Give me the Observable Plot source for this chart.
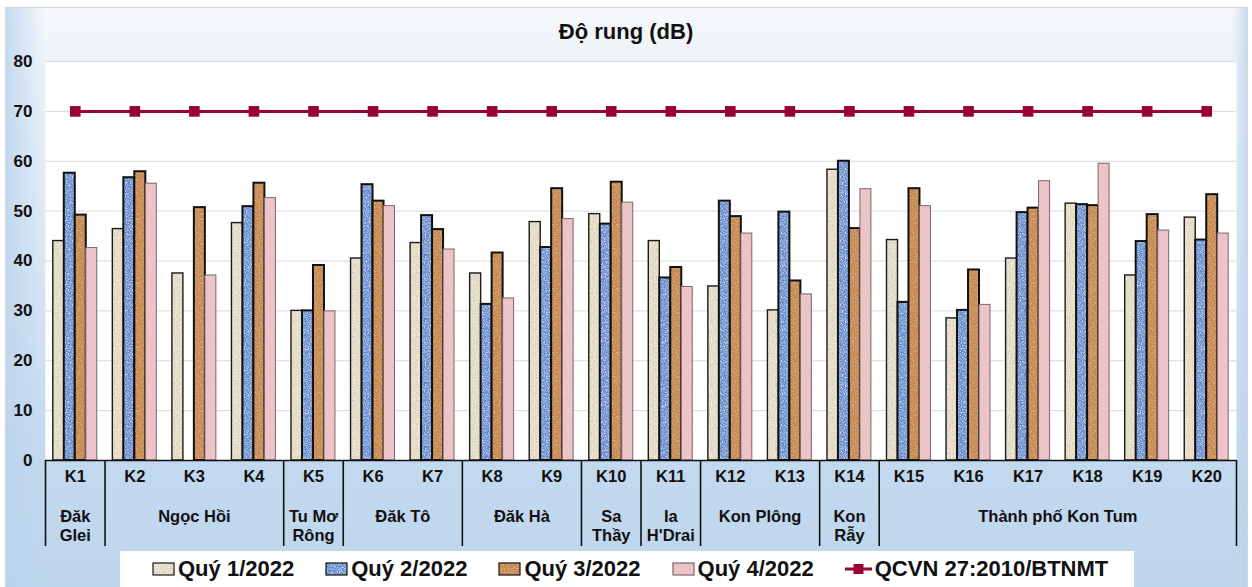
<!DOCTYPE html>
<html>
<head>
<meta charset="utf-8">
<script src="https://cdn.jsdelivr.net/npm/d3@7"></script>
<script src="https://cdn.jsdelivr.net/npm/@observablehq/plot@0.6"></script>
<style>
  html, body { margin: 0; padding: 0; background: #fff; }
  body { width: 1252px; height: 587px; overflow: hidden; position: relative;
         font-family: "Liberation Sans", Arial, sans-serif; color: #111; }
  #bg { position: absolute; left: 5px; top: 7px; width: 1243px; height: 600px;
        border: 1px solid #d2d6dc; box-sizing: border-box;
        background:
          linear-gradient(to right, rgba(186,211,237,0.8) 0px, rgba(186,211,237,0) 40px,
                          rgba(186,211,237,0) 1225px, rgba(186,211,237,0.8) 1243px),
          linear-gradient(to bottom, #f6f8fc 0px, #eef3f9 55px, #dde9f5 240px, #c3d9ef 450px, #bdd5ed 600px); }
  #title { position: absolute; left: 0; top: 19px; width: 1252px; text-align: center;
           font-weight: bold; font-size: 22px; line-height: 26px; }
  #chart { position: absolute; left: 0; top: 0; }
  #legend { position: absolute; left: 120px; top: 551px; width: 1014px; height: 36px;
            background: #fff; display: flex; align-items: center; padding-left: 32px;
            box-sizing: border-box; font-weight: bold; font-size: 22px; gap: 31px; }
  .item { display: flex; align-items: center; white-space: nowrap; }
  .item svg { margin-right: 3px; }
</style>
</head>
<body>
<div id="bg"></div>
<div id="title">Độ rung (dB)</div>
<div id="chart"></div>
<div id="legend"></div>
<script>
// Monitoring stations and their districts
const stations = ["K1","K2","K3","K4","K5","K6","K7","K8","K9","K10",
                  "K11","K12","K13","K14","K15","K16","K17","K18","K19","K20"];
const districts = ["Đăk\nGlei","Ngọc Hồi","Tu Mơ\nRông","Đăk Tô","Đăk Hà",
                   "Sa\nThầy","Ia\nH'Drai","Kon Plông","Kon\nRẫy","Thành phố Kon Tum"];
const districtSizes = [1, 3, 1, 2, 2, 1, 1, 2, 1, 6];

// Vibration level (dB) per quarter of 2022; null = not measured
const quy1 = [44.0, 46.4, 37.5, 47.6, 30.0, 40.5, 43.6, 37.5, 47.8, 49.4,
              44.0, 34.9, 30.1, 58.3, 44.2, 28.5, 40.5, 51.5, 37.1, 48.7];
const quy2 = [57.6, 56.7, null, 50.9, 30.0, 55.3, 49.1, 31.3, 42.7, 47.4,
              36.6, 52.0, 49.8, 60.0, 31.7, 30.1, 49.7, 51.3, 43.9, 44.2];
const quy3 = [49.2, 57.9, 50.7, 55.6, 39.1, 52.0, 46.3, 41.6, 54.5, 55.8,
              38.7, 48.9, 36.0, 46.5, 54.5, 38.2, 50.6, 51.1, 49.3, 53.3];
const quy4 = [42.6, 55.5, 37.1, 52.6, 29.9, 51.0, 42.3, 32.5, 48.4, 51.7,
              34.8, 45.5, 33.3, 54.4, 51.0, 31.2, 56.0, 59.5, 46.1, 45.5];
// QCVN 27:2010/BTNMT limit
const qcvn = [70, 70, 70, 70, 70, 70, 70, 70, 70, 70,
              70, 70, 70, 70, 70, 70, 70, 70, 70, 70];
const yTicks = [0, 10, 20, 30, 40, 50, 60, 70, 80];

const series = [
  {name: "Quý 1/2022", values: quy1, fill: "url(#tex-q1)", stroke: "#1a1a1a", sw: 1.4},
  {name: "Quý 2/2022", values: quy2, fill: "url(#tex-q2)", stroke: "#111", sw: 2},
  {name: "Quý 3/2022", values: quy3, fill: "url(#tex-q3)", stroke: "#111", sw: 2},
  {name: "Quý 4/2022", values: quy4, fill: "url(#tex-q4)", stroke: "#7a6668", sw: 1}
];
const limitName = "QCVN 27:2010/BTNMT";
const limitColor = "#990033";

// Layout of the four bars inside each station slot (fractions of a slot)
const slotPad = 0.131, barW = 0.1845;

// District boundaries and centres on the station index axis
const bounds = [0];
districtSizes.forEach(n => bounds.push(bounds[bounds.length - 1] + n));
const districtRows = districts.map((name, k) => ({name, mid: (bounds[k] + bounds[k + 1]) / 2}));

const W = 1252, H = 550, mTop = 61, mBottom = 90, mLeft = 45, mRight = 16;
const plotH = H - mTop - mBottom;
const font = "'Liberation Sans', Arial, sans-serif";

const barMarks = series.map((s, k) =>
  Plot.rectY(
    stations.map((st, i) => ({i, v: s.values[i]})).filter(d => d.v != null),
    {
      x1: d => d.i + slotPad + k * barW,
      x2: d => d.i + slotPad + (k + 1) * barW,
      y: "v",
      fill: s.fill, stroke: s.stroke, strokeWidth: s.sw
    })
);

const limitRows = stations.map((st, i) => ({x: i + 0.5, y: qcvn[i]}));

const chart = Plot.plot({
  width: W, height: H,
  marginTop: mTop, marginBottom: mBottom, marginLeft: mLeft, marginRight: mRight,
  style: {background: "transparent", fontFamily: font, fontSize: "17px",
          fontWeight: "bold", color: "#111", overflow: "visible"},
  x: {type: "linear", domain: [0, stations.length], axis: null},
  y: {domain: [0, 80], ticks: yTicks, tickSize: 0, tickPadding: 13, label: null,
      tickFormat: d => String(d)},
  marks: [
    Plot.frame({fill: "#fff", stroke: "none"}),
    Plot.ruleY(yTicks.filter(t => t > 0), {stroke: "#d9d9d9", strokeWidth: 1}),
    ...barMarks,
    Plot.ruleY([0], {stroke: "#111", strokeWidth: 1.6}),
    Plot.ruleX(bounds, {insetTop: plotH, insetBottom: -86, stroke: "#111", strokeWidth: 1.6}),
    Plot.line(limitRows, {x: "x", y: "y", stroke: limitColor, strokeWidth: 3}),
    Plot.dot(limitRows, {x: "x", y: "y", symbol: "square", r: 6, fill: limitColor, stroke: "none"}),
    Plot.text(stations, {x: (d, i) => i + 0.5, text: d => d, frameAnchor: "bottom", dy: 21,
                         fontSize: 16.5, fontWeight: "bold", fill: "#111"}),
    Plot.text(districtRows, {x: "mid", text: "name", frameAnchor: "bottom", dy: 47,
                             lineAnchor: "top", lineHeight: 1.2,
                             fontSize: 16.5, fontWeight: "bold", fill: "#111"})
  ]
});

// Fill textures: base colour plus a deterministic turbulence grain
function grainFilter(defs, id, rgb, slope, offset, freq) {
  const f = defs.append("filter").attr("id", id)
    .attr("x", 0).attr("y", 0).attr("width", "100%").attr("height", "100%");
  f.append("feTurbulence").attr("type", "fractalNoise").attr("baseFrequency", freq)
    .attr("numOctaves", 2).attr("seed", 7).attr("stitchTiles", "stitch");
  const [r, g, b] = rgb.map(c => c / 255);
  f.append("feColorMatrix").attr("type", "matrix").attr("values",
    `0 0 0 0 ${r}  0 0 0 0 ${g}  0 0 0 0 ${b}  ${slope} 0 0 0 ${offset}`);
}
function texture(defs, id, base, layers) {
  const p = defs.append("pattern").attr("id", id)
    .attr("patternUnits", "userSpaceOnUse").attr("width", 64).attr("height", 64);
  p.append("rect").attr("width", 64).attr("height", 64).attr("fill", base);
  layers.forEach(l => p.append("rect").attr("width", 64).attr("height", 64)
    .attr("fill", "#fff").attr("filter", `url(#${l})`));
}
const svg = d3.select(chart);
const defs = svg.insert("defs", ":first-child");
grainFilter(defs, "g-q1-dark", [150, 130, 100], 1.6, -0.68, "0.9 0.25");
grainFilter(defs, "g-q1-light", [250, 246, 236], 1.8, -0.72, "0.7 0.9");
grainFilter(defs, "g-q2-light", [190, 210, 245], 2.4, -0.95, "0.75");
grainFilter(defs, "g-q2-dark", [40, 70, 140], 2.0, -0.85, "0.5");
grainFilter(defs, "g-q3-dark", [110, 60, 25], 2.2, -0.9, "0.6");
grainFilter(defs, "g-q3-light", [235, 175, 115], 2.0, -0.85, "0.8");
grainFilter(defs, "g-q4", [220, 160, 170], 1.4, -0.6, "0.35");
texture(defs, "tex-q1", "#e5dac3", ["g-q1-dark", "g-q1-light"]);
texture(defs, "tex-q2", "#5c83c9", ["g-q2-dark", "g-q2-light"]);
texture(defs, "tex-q3", "#cb874d", ["g-q3-light", "g-q3-dark"]);
texture(defs, "tex-q4", "#ecc2c6", ["g-q4"]);

document.getElementById("chart").append(chart);

// Legend
const legend = d3.select("#legend");
series.forEach(s => {
  const it = legend.append("div").attr("class", "item");
  const sv = it.append("svg").attr("width", 23).attr("height", 14);
  sv.append("rect").attr("x", 1).attr("y", 1).attr("width", 21).attr("height", 12)
    .attr("fill", s.fill).attr("stroke", s.stroke).attr("stroke-width", 1.2);
  it.append("span").text(s.name);
});
const li = legend.append("div").attr("class", "item");
const lsv = li.append("svg").attr("width", 27).attr("height", 14);
lsv.append("line").attr("x1", 0).attr("x2", 27).attr("y1", 7).attr("y2", 7)
  .attr("stroke", limitColor).attr("stroke-width", 3);
lsv.append("rect").attr("x", 8.5).attr("y", 2).attr("width", 10).attr("height", 10).attr("fill", limitColor);
li.append("span").text(limitName);
</script>
</body>
</html>
